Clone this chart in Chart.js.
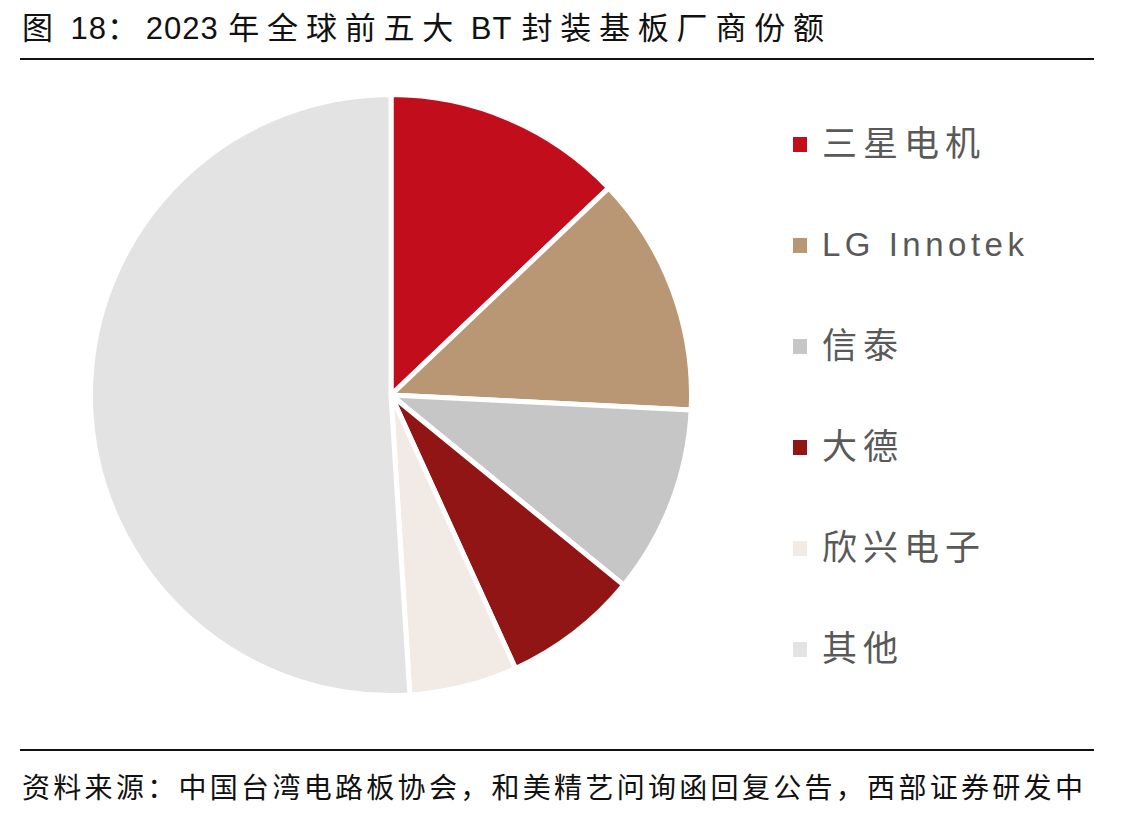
<!DOCTYPE html>
<html>
<head>
<meta charset="utf-8">
<script src="https://cdn.jsdelivr.net/npm/chart.js@4"></script>
<style>
  html, body { margin:0; padding:0; background:#fff; }
  body { width:1144px; height:818px; position:relative; overflow:hidden; font-family:"Liberation Sans","Noto Sans CJK SC",sans-serif; }
  #title { position:absolute; left:22px; top:3px; font-size:31px; color:#111; white-space:nowrap; letter-spacing:1px; }
  #title .cj { letter-spacing:7.8px; }
  .rule { position:absolute; left:20px; width:1074px; height:2px; background:#111; }
  #source { position:absolute; left:22px; top:766px; font-size:28px; color:#111; white-space:nowrap; letter-spacing:3.3px; }
  #wrap { position:absolute; left:88px; top:92px; width:606px; height:606px; }
  #legend { position:absolute; left:793px; top:0; }
  .item { position:absolute; left:0; white-space:nowrap; color:#595959; height:42px; line-height:42px; }
  .box { position:absolute; left:0; width:14px; height:15px; }
  .lab { position:absolute; left:29px; top:0; }
</style>
</head>
<body>
<div id="title"></div>
<div class="rule" style="top:58px"></div>
<div id="wrap"><canvas id="c" width="606" height="606"></canvas></div>
<div id="legend"></div>
<div class="rule" style="top:749px"></div>
<div id="source">资料来源：中国台湾电路板协会，和美精艺问询函回复公告，西部证券研发中</div>
<script>
const titleText = "图 18：2023 年全球前五大 BT 封装基板厂商份额";
const categories = ["三星电机", "LG Innotek", "信泰", "大德", "欣兴电子", "其他"];
const shares = [12.9, 12.9, 10.1, 7.3, 5.8, 51.0];
const colors = ["#C20E1C", "#B99774", "#C6C6C6", "#921516", "#F1EAE5", "#E3E3E3"];

const titleEl = document.getElementById('title');
titleText.split(/([^\x00-\x7F]+)/).forEach(seg => {
  if (!seg) return;
  const s = document.createElement('span');
  if (/[^\x00-\x7F]/.test(seg)) s.className = 'cj';
  s.textContent = seg;
  titleEl.appendChild(s);
});

const legend = document.getElementById('legend');
categories.forEach((name, i) => {
  const center = 144.5 + i * 101;
  const item = document.createElement('div');
  item.className = 'item';
  item.style.top = (center - 22) + 'px';
  const box = document.createElement('div');
  box.className = 'box';
  box.style.background = colors[i];
  box.style.top = '14px';
  const lab = document.createElement('div');
  lab.className = 'lab';
  lab.textContent = name;
  const latin = /^[A-Za-z]/.test(name);
  lab.style.fontSize = latin ? '33px' : '35px';
  lab.style.letterSpacing = latin ? '4.5px' : '6px';
  item.appendChild(box);
  item.appendChild(lab);
  legend.appendChild(item);
});

new Chart(document.getElementById('c'), {
  type: 'pie',
  data: {
    labels: categories,
    datasets: [{
      data: shares,
      backgroundColor: colors,
      borderColor: '#ffffff',
      borderWidth: 5,
      hoverOffset: 0
    }]
  },
  options: {
    responsive: false,
    animation: false,
    layout: { padding: 0 },
    plugins: { legend: { display: false }, tooltip: { enabled: false } }
  }
});
</script>
</body>
</html>
